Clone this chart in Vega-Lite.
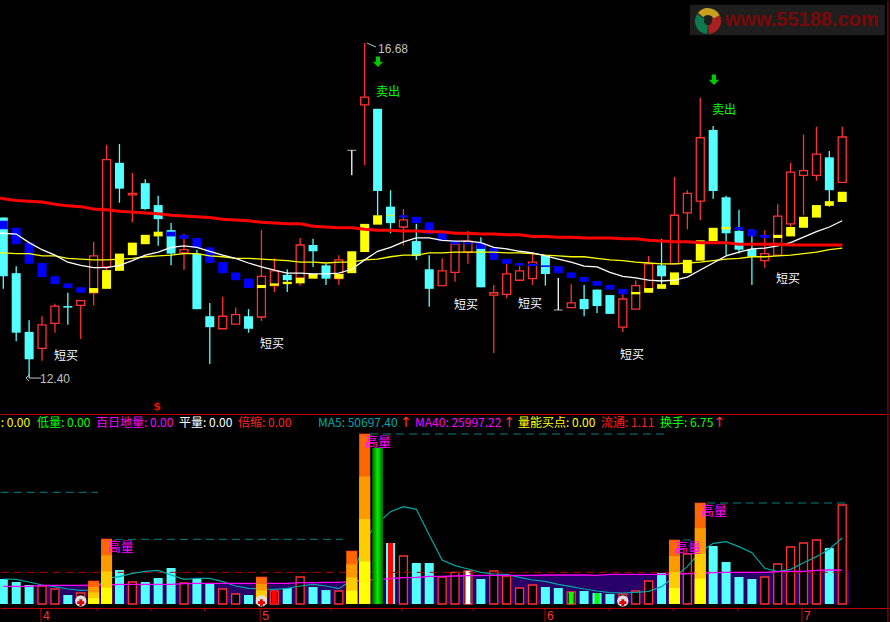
{
"$schema":"https://vega.github.io/schema/vega-lite/v6.json",
"background":"#000000","padding":0,"spacing":0,"bounds":"flush",
"config":{"view":{"stroke":null},"concat":{"spacing":0},"text":{"font":"Noto Sans CJK SC","fontSize":12}},
"datasets":{
"candles":[
{"i":0,"open":14.45,"close":13.70,"high":14.45,"low":13.54},
{"i":1,"open":13.74,"close":12.98,"high":13.83,"low":12.87},
{"i":2,"open":12.99,"close":12.64,"high":13.14,"low":12.40},
{"i":3,"open":12.78,"close":13.08,"high":13.19,"low":12.62},
{"i":4,"open":13.10,"close":13.32,"high":13.35,"low":12.98},
{"i":5,"open":13.32,"close":13.30,"high":13.49,"low":13.08},
{"i":6,"open":13.33,"close":13.39,"high":13.39,"low":12.90},
{"i":7,"open":13.49,"close":13.96,"high":14.14,"low":13.33},
{"i":8,"open":13.82,"close":15.19,"high":15.38,"low":13.78},
{"i":9,"open":15.15,"close":14.82,"high":15.39,"low":14.64},
{"i":10,"open":14.74,"close":14.76,"high":15.02,"low":14.39},
{"i":11,"open":14.89,"close":14.56,"high":14.94,"low":14.55},
{"i":12,"open":14.61,"close":14.43,"high":14.73,"low":14.09},
{"i":13,"open":14.29,"close":13.99,"high":14.38,"low":13.84},
{"i":14,"open":14.00,"close":14.04,"high":14.24,"low":13.78},
{"i":15,"open":13.99,"close":13.28,"high":14.04,"low":13.28},
{"i":16,"open":13.19,"close":13.05,"high":13.36,"low":12.58},
{"i":17,"open":13.03,"close":13.19,"high":13.44,"low":13.03},
{"i":18,"open":13.09,"close":13.21,"high":13.30,"low":13.09},
{"i":19,"open":13.19,"close":13.03,"high":13.28,"low":12.98},
{"i":20,"open":13.18,"close":13.70,"high":14.29,"low":13.13},
{"i":21,"open":13.58,"close":13.77,"high":13.93,"low":13.50},
{"i":22,"open":13.72,"close":13.65,"high":13.79,"low":13.50},
{"i":23,"open":13.68,"close":14.10,"high":14.19,"low":13.58},
{"i":24,"open":14.10,"close":14.02,"high":14.18,"low":13.82},
{"i":25,"open":13.84,"close":13.67,"high":13.86,"low":13.59},
{"i":26,"open":13.67,"close":13.91,"high":13.97,"low":13.59},
{"i":27,"open":15.31,"close":15.31,"high":15.31,"low":14.99},
{"i":28,"open":15.89,"close":15.99,"high":16.68,"low":15.12},
{"i":29,"open":15.84,"close":14.79,"high":15.84,"low":14.48},
{"i":30,"open":14.59,"close":14.38,"high":14.80,"low":14.25},
{"i":31,"open":14.33,"close":14.42,"high":14.56,"low":14.09},
{"i":32,"open":14.15,"close":13.96,"high":14.37,"low":13.91},
{"i":33,"open":13.79,"close":13.54,"high":13.97,"low":13.31},
{"i":34,"open":13.58,"close":13.77,"high":13.93,"low":13.58},
{"i":35,"open":13.75,"close":14.11,"high":14.13,"low":13.63},
{"i":36,"open":14.01,"close":14.15,"high":14.28,"low":13.86},
{"i":37,"open":14.10,"close":13.56,"high":14.20,"low":13.56},
{"i":38,"open":13.46,"close":13.49,"high":13.59,"low":12.72},
{"i":39,"open":13.47,"close":13.73,"high":13.86,"low":13.42},
{"i":40,"open":13.65,"close":13.77,"high":13.83,"low":13.64},
{"i":41,"open":13.67,"close":13.88,"high":13.99,"low":13.59},
{"i":42,"open":13.96,"close":13.73,"high":13.96,"low":13.58},
{"i":43,"open":13.27,"close":13.27,"high":13.68,"low":13.27},
{"i":44,"open":13.30,"close":13.36,"high":13.60,"low":13.30},
{"i":45,"open":13.41,"close":13.28,"high":13.59,"low":13.19},
{"i":46,"open":13.53,"close":13.32,"high":13.53,"low":13.23},
{"i":47,"open":13.46,"close":13.22,"high":13.46,"low":13.22},
{"i":48,"open":13.05,"close":13.41,"high":13.47,"low":12.99},
{"i":49,"open":13.28,"close":13.58,"high":13.65,"low":13.28},
{"i":50,"open":13.53,"close":13.86,"high":13.96,"low":13.49},
{"i":51,"open":13.84,"close":13.70,"high":14.18,"low":13.60},
{"i":52,"open":13.86,"close":14.48,"high":14.97,"low":13.86},
{"i":53,"open":14.51,"close":14.76,"high":14.80,"low":14.30},
{"i":54,"open":14.66,"close":15.47,"high":15.98,"low":14.42},
{"i":55,"open":15.57,"close":14.79,"high":15.62,"low":14.69},
{"i":56,"open":14.71,"close":14.25,"high":14.73,"low":13.97},
{"i":57,"open":14.28,"close":14.04,"high":14.55,"low":13.99},
{"i":58,"open":14.05,"close":13.95,"high":14.30,"low":13.59},
{"i":59,"open":13.90,"close":13.99,"high":14.29,"low":13.81},
{"i":60,"open":13.97,"close":14.47,"high":14.62,"low":13.97},
{"i":61,"open":14.37,"close":15.03,"high":15.15,"low":14.33},
{"i":62,"open":14.99,"close":15.05,"high":15.51,"low":14.48},
{"i":63,"open":14.99,"close":15.26,"high":15.61,"low":14.92},
{"i":64,"open":15.22,"close":14.80,"high":15.30,"low":14.59},
{"i":65,"open":14.90,"close":15.48,"high":15.61,"low":14.90}
],
"trend":[
{"i":0,"d":"down","t":14.41,"b":14.30},{"i":1,"d":"down","t":14.32,"b":14.11},{"i":2,"d":"down","t":14.13,"b":13.86},{"i":3,"d":"down","t":13.87,"b":13.69},{"i":4,"d":"down","t":13.70,"b":13.60},{"i":5,"d":"down","t":13.61,"b":13.55},{"i":6,"d":"down","t":13.56,"b":13.49},
{"i":7,"d":"up","t":13.55,"b":13.49},{"i":8,"d":"up","t":13.78,"b":13.54},{"i":9,"d":"up","t":13.99,"b":13.77},{"i":10,"d":"up","t":14.13,"b":13.97},{"i":11,"d":"up","t":14.23,"b":14.11},{"i":12,"d":"up","t":14.27,"b":14.21},
{"i":13,"d":"down","t":14.27,"b":14.21},{"i":14,"d":"down","t":14.23,"b":14.18},{"i":15,"d":"down","t":14.19,"b":14.06},{"i":16,"d":"down","t":14.07,"b":13.87},{"i":17,"d":"down","t":13.88,"b":13.74},{"i":18,"d":"down","t":13.75,"b":13.65},{"i":19,"d":"down","t":13.67,"b":13.55},
{"i":20,"d":"up","t":13.59,"b":13.55},{"i":21,"d":"up","t":13.61,"b":13.58},{"i":22,"d":"up","t":13.63,"b":13.60},{"i":23,"d":"up","t":13.68,"b":13.61},{"i":24,"d":"up","t":13.73,"b":13.67},{"i":26,"d":"up","t":13.73,"b":13.67},{"i":27,"d":"up","t":14.02,"b":13.74},{"i":28,"d":"up","t":14.37,"b":14.01},{"i":29,"d":"up","t":14.48,"b":14.36},{"i":30,"d":"up","t":14.48,"b":14.47},
{"i":31,"d":"down","t":14.48,"b":14.45},{"i":32,"d":"down","t":14.46,"b":14.38},{"i":33,"d":"down","t":14.39,"b":14.24},{"i":34,"d":"down","t":14.25,"b":14.15},{"i":35,"d":"down","t":14.15,"b":14.11},{"i":36,"d":"down","t":14.13,"b":14.11},{"i":37,"d":"down","t":14.13,"b":14.05},{"i":38,"d":"down","t":14.06,"b":13.91},{"i":39,"d":"down","t":13.92,"b":13.86},{"i":40,"d":"down","t":13.87,"b":13.84},{"i":41,"d":"down","t":13.86,"b":13.83},{"i":42,"d":"down","t":13.84,"b":13.82},{"i":43,"d":"down","t":13.83,"b":13.74},{"i":44,"d":"down","t":13.75,"b":13.68},{"i":45,"d":"down","t":13.69,"b":13.63},{"i":46,"d":"down","t":13.64,"b":13.58},{"i":47,"d":"down","t":13.59,"b":13.53},{"i":48,"d":"down","t":13.54,"b":13.47},
{"i":49,"d":"up","t":13.50,"b":13.47},{"i":50,"d":"up","t":13.55,"b":13.49},{"i":51,"d":"up","t":13.60,"b":13.54},{"i":52,"d":"up","t":13.75,"b":13.59},{"i":53,"d":"up","t":13.91,"b":13.74},{"i":54,"d":"up","t":14.16,"b":13.90},{"i":55,"d":"up","t":14.32,"b":14.15},{"i":56,"d":"up","t":14.33,"b":14.30},
{"i":57,"d":"down","t":14.33,"b":14.29},{"i":58,"d":"down","t":14.30,"b":14.21},{"i":59,"d":"down","t":14.23,"b":14.19},
{"i":60,"d":"up","t":14.23,"b":14.19},{"i":61,"d":"up","t":14.33,"b":14.21},{"i":62,"d":"up","t":14.46,"b":14.32},{"i":63,"d":"up","t":14.61,"b":14.45},{"i":64,"d":"up","t":14.66,"b":14.60},{"i":65,"d":"up","t":14.78,"b":14.65}
],
"lines":[
{"i":-0.25,"w":14.25,"y":14.00,"r":14.70},
{"i":0,"w":14.25,"y":14.00,"r":14.69},{"i":1,"w":14.24,"y":13.99,"r":14.67},{"i":2,"w":14.13,"y":13.99,"r":14.66},{"i":3,"w":14.04,"y":13.96,"r":14.65},{"i":4,"w":13.97,"y":13.96,"r":14.62},{"i":5,"w":13.88,"y":13.93,"r":14.60},{"i":6,"w":13.84,"y":13.92,"r":14.59},{"i":7,"w":13.81,"y":13.91,"r":14.56},{"i":8,"w":13.81,"y":13.91,"r":14.55},{"i":9,"w":13.84,"y":13.92,"r":14.53},
{"i":10,"w":13.90,"y":13.93,"r":14.52},{"i":11,"w":13.97,"y":13.95,"r":14.51},{"i":12,"w":14.01,"y":13.96,"r":14.50},{"i":13,"w":14.07,"y":13.97,"r":14.48},{"i":14,"w":14.09,"y":13.99,"r":14.47},{"i":15,"w":14.07,"y":13.99,"r":14.46},{"i":16,"w":14.02,"y":13.96,"r":14.45},{"i":17,"w":13.97,"y":13.95,"r":14.43},{"i":18,"w":13.93,"y":13.93,"r":14.42},{"i":19,"w":13.87,"y":13.93,"r":14.41},
{"i":20,"w":13.82,"y":13.92,"r":14.39},{"i":21,"w":13.78,"y":13.91,"r":14.38},{"i":22,"w":13.74,"y":13.90,"r":14.37},{"i":23,"w":13.74,"y":13.88,"r":14.37},{"i":24,"w":13.73,"y":13.88,"r":14.34},{"i":25,"w":13.73,"y":13.87,"r":14.33},{"i":26,"w":13.74,"y":13.88,"r":14.32},{"i":27,"w":13.79,"y":13.88,"r":14.32},{"i":28,"w":13.91,"y":13.91,"r":14.30},{"i":29,"w":14.02,"y":13.92,"r":14.29},
{"i":30,"w":14.07,"y":13.95,"r":14.29},{"i":31,"w":14.14,"y":13.97,"r":14.28},{"i":32,"w":14.19,"y":13.97,"r":14.28},{"i":33,"w":14.19,"y":14.00,"r":14.27},{"i":34,"w":14.16,"y":14.00,"r":14.27},{"i":35,"w":14.15,"y":14.01,"r":14.25},{"i":36,"w":14.15,"y":14.01,"r":14.25},{"i":37,"w":14.13,"y":14.01,"r":14.24},{"i":38,"w":14.07,"y":14.01,"r":14.24},{"i":39,"w":14.05,"y":14.00,"r":14.23},
{"i":40,"w":14.02,"y":14.00,"r":14.23},{"i":41,"w":14.00,"y":13.99,"r":14.21},{"i":42,"w":13.96,"y":13.97,"r":14.21},{"i":43,"w":13.92,"y":13.96,"r":14.20},{"i":44,"w":13.88,"y":13.95,"r":14.20},{"i":45,"w":13.83,"y":13.95,"r":14.19},{"i":46,"w":13.82,"y":13.93,"r":14.19},{"i":47,"w":13.75,"y":13.91,"r":14.19},{"i":48,"w":13.70,"y":13.90,"r":14.18},{"i":49,"w":13.68,"y":13.88,"r":14.18},
{"i":50,"w":13.65,"y":13.87,"r":14.16},{"i":51,"w":13.64,"y":13.86,"r":14.15},{"i":52,"w":13.65,"y":13.86,"r":14.14},{"i":53,"w":13.69,"y":13.87,"r":14.14},{"i":54,"w":13.78,"y":13.88,"r":14.13},{"i":55,"w":13.87,"y":13.90,"r":14.13},{"i":56,"w":13.96,"y":13.92,"r":14.13},{"i":57,"w":14.01,"y":13.93,"r":14.11},{"i":58,"w":14.05,"y":13.95,"r":14.11},{"i":59,"w":14.06,"y":13.95,"r":14.11},
{"i":60,"w":14.09,"y":13.96,"r":14.11},{"i":61,"w":14.13,"y":13.97,"r":14.10},{"i":62,"w":14.20,"y":13.99,"r":14.10},{"i":63,"w":14.27,"y":14.01,"r":14.10},{"i":64,"w":14.33,"y":14.04,"r":14.10},{"i":65,"w":14.41,"y":14.06,"r":14.10}
],
"volume":[
{"i":0,"v":19200,"d":"down","ma5":19200,"ma40":13568},{"i":1,"v":16896,"d":"down","ma5":18944,"ma40":13568},{"i":2,"v":14592,"d":"down","ma5":16896,"ma40":13568},{"i":3,"v":13824,"d":"up","ma5":14592,"ma40":14336},{"i":4,"v":11520,"d":"up","ma5":13312,"ma40":14336},{"i":5,"v":6912,"d":"down","ma5":11520,"ma40":14336},{"i":6,"v":8448,"d":"up","ma5":10496,"ma40":14336},{"i":7,"v":17664,"d":"high","ma5":10752,"ma40":14592},{"i":8,"v":49920,"d":"high","ma5":19712,"ma40":14592},{"i":9,"v":26112,"d":"down","ma5":20992,"ma40":15104},
{"i":10,"v":16896,"d":"up","ma5":23552,"ma40":15104},{"i":11,"v":16896,"d":"down","ma5":25088,"ma40":15104},{"i":12,"v":19968,"d":"down","ma5":25856,"ma40":15104},{"i":13,"v":27648,"d":"down","ma5":22272,"ma40":15104},{"i":14,"v":16128,"d":"up","ma5":18944,"ma40":15616},{"i":15,"v":19200,"d":"down","ma5":19712,"ma40":15872},{"i":16,"v":15360,"d":"down","ma5":19712,"ma40":15872},{"i":17,"v":11520,"d":"up","ma5":17152,"ma40":15872},{"i":18,"v":7680,"d":"up","ma5":13824,"ma40":15872},{"i":19,"v":6912,"d":"down","ma5":12032,"ma40":15872},
{"i":20,"v":20736,"d":"high","ma5":11520,"ma40":15872},{"i":21,"v":9984,"d":"up","ma5":11264,"ma40":15872},{"i":22,"v":12288,"d":"down","ma5":12032,"ma40":15872},{"i":23,"v":20736,"d":"up","ma5":13824,"ma40":16384},{"i":24,"v":13056,"d":"down","ma5":15104,"ma40":16384},{"i":25,"v":10752,"d":"down","ma5":13824,"ma40":16640},{"i":26,"v":9984,"d":"up","ma5":11776,"ma40":16640},{"i":27,"v":40704,"d":"high","ma5":18432,"ma40":17408},{"i":28,"v":130560,"d":"high","ma5":49152,"ma40":18432},{"i":29,"v":119808,"d":"peak","ma5":61952,"ma40":18944},
{"i":30,"v":46848,"d":"down","ma5":70912,"ma40":19456},{"i":31,"v":36864,"d":"up","ma5":74752,"ma40":20224},{"i":32,"v":31488,"d":"down","ma5":72704,"ma40":20480},{"i":33,"v":31488,"d":"down","ma5":52992,"ma40":21248},{"i":34,"v":20736,"d":"up","ma5":33792,"ma40":21248},{"i":35,"v":24320,"d":"up","ma5":29440,"ma40":21504},{"i":36,"v":25344,"d":"up","ma5":26880,"ma40":21760},{"i":37,"v":19200,"d":"down","ma5":24320,"ma40":22016},{"i":38,"v":25344,"d":"up","ma5":23040,"ma40":22016},{"i":39,"v":21504,"d":"up","ma5":22784,"ma40":22016},
{"i":40,"v":12288,"d":"up","ma5":20480,"ma40":22016},{"i":41,"v":14592,"d":"up","ma5":18432,"ma40":22016},{"i":42,"v":13056,"d":"down","ma5":17408,"ma40":22272},{"i":43,"v":12288,"d":"down","ma5":15104,"ma40":22272},{"i":44,"v":9216,"d":"up","ma5":13312,"ma40":22272},{"i":45,"v":9984,"d":"down","ma5":11520,"ma40":22272},{"i":46,"v":8448,"d":"down","ma5":9984,"ma40":22016},{"i":47,"v":7680,"d":"down","ma5":8704,"ma40":22784},{"i":48,"v":7680,"d":"up","ma5":8448,"ma40":22784},{"i":49,"v":9984,"d":"up","ma5":8960,"ma40":22784},
{"i":50,"v":17664,"d":"up","ma5":9728,"ma40":22784},{"i":51,"v":23808,"d":"down","ma5":13312,"ma40":22784},{"i":52,"v":49152,"d":"high","ma5":20992,"ma40":23040},{"i":53,"v":38400,"d":"up","ma5":28672,"ma40":23296},{"i":54,"v":77568,"d":"high","ma5":40192,"ma40":23552},{"i":55,"v":44544,"d":"down","ma5":46592,"ma40":24064},{"i":56,"v":32256,"d":"down","ma5":47872,"ma40":24320},{"i":57,"v":20736,"d":"down","ma5":44032,"ma40":24320},{"i":58,"v":19200,"d":"down","ma5":39424,"ma40":24320},{"i":59,"v":20736,"d":"up","ma5":27392,"ma40":24320},
{"i":60,"v":30720,"d":"up","ma5":24832,"ma40":24832},{"i":61,"v":43776,"d":"up","ma5":26624,"ma40":25088},{"i":62,"v":46848,"d":"up","ma5":31744,"ma40":25088},{"i":63,"v":49152,"d":"up","ma5":36352,"ma40":25856},{"i":64,"v":43008,"d":"down","ma5":42240,"ma40":26112},{"i":65,"v":76032,"d":"up","ma5":50697.40,"ma40":25997.22}
],
"highVol":[
{"i":7,"q1":4416,"q2":8832,"q3":13248,"q4":17664},
{"i":8,"q1":12480,"q2":24960,"q3":37440,"q4":49920},
{"i":20,"q1":5184,"q2":10368,"q3":15552,"q4":20736},
{"i":27,"q1":10176,"q2":20352,"q3":30528,"q4":40704},
{"i":28,"q1":32640,"q2":65280,"q3":97920,"q4":130560},
{"i":52,"q1":12288,"q2":24576,"q3":36864,"q4":49152},
{"i":54,"q1":19392,"q2":38784,"q3":58176,"q4":77568}
],
"inner":[
{"i":21,"v":9984,"c":"red"},{"i":30,"v":46848,"c":"red"},{"i":36,"v":25344,"c":"white"},{"i":44,"v":9216,"c":"green"},{"i":46,"v":8448,"c":"green"}
],
"levels":[
{"a":-0.2,"b":7.33,"v":85760},{"a":8.65,"b":26.32,"v":49664},{"a":28.41,"b":51.34,"v":130560},{"a":52.66,"b":53.42,"v":49152},{"a":54.52,"b":65.37,"v":77568}
],
"ticks":[
{"i":2.92,"label":"4","major":true},{"i":7.26,"major":false},{"i":11.44,"major":false},{"i":15.6,"major":false},{"i":19.9,"label":"5","major":true},{"i":25.39,"major":false},{"i":30.89,"major":false},{"i":36.39,"major":false},{"i":41.97,"label":"6","major":true},{"i":46.93,"major":false},{"i":51.89,"major":false},{"i":56.92,"major":false},{"i":61.88,"label":"7","major":true}
]
},
"vconcat":[
{"width":890,"height":414,
"encoding":{"x":{"field":"i","type":"quantitative","axis":null,"scale":{"domain":[-0.2557,68.7],"nice":false,"zero":false,"padding":0}}},
"layer":[
{"data":{"values":[{"a":53.2,"b":68.3,"t":17.17,"u":16.78}]},"mark":{"type":"rect","color":"#1e1e1e"},"encoding":{"x":{"field":"a","type":"quantitative"},"x2":{"field":"b"},"y":{"field":"t","type":"quantitative","axis":null,"scale":{"domain":[11.941,17.23],"nice":false,"zero":false,"padding":0}},"y2":{"field":"u"}}},
{"data":{"values":[{"i":54.6,"p":16.96}]},"mark":{"type":"arc","color":"#c8a020","innerRadius":6,"outerRadius":13,"theta":5.4,"theta2":7.6},"encoding":{"x":{"field":"i","type":"quantitative"},"y":{"field":"p","type":"quantitative"}}},
{"data":{"values":[{"i":54.6,"p":16.96}]},"mark":{"type":"arc","color":"#0c7a4c","innerRadius":4,"outerRadius":13,"theta":3.2,"theta2":5.3},"encoding":{"x":{"field":"i","type":"quantitative"},"y":{"field":"p","type":"quantitative"}}},
{"data":{"values":[{"i":54.6,"p":16.96}]},"mark":{"type":"arc","color":"#a82020","innerRadius":4,"outerRadius":13,"theta":1.1,"theta2":3.1},"encoding":{"x":{"field":"i","type":"quantitative"},"y":{"field":"p","type":"quantitative"}}},
{"data":{"values":[{"i":55.9,"p":16.97,"t":"www.55188.com"}]},"mark":{"type":"text","align":"left","baseline":"middle","font":"Liberation Sans","fontWeight":"bold","fontSize":20,"color":"#7a0808"},"encoding":{"y":{"field":"p","type":"quantitative"},"text":{"field":"t"}}},
{"data":{"name":"candles"},"transform":[{"filter":"datum.close>datum.open"}],"mark":{"type":"rule","color":"#ff3232","strokeWidth":1.3},"encoding":{"y":{"field":"high","type":"quantitative"},"y2":{"field":"low"}}},
{"data":{"name":"candles"},"transform":[{"filter":"datum.close<datum.open"}],"mark":{"type":"rule","color":"#54ffff","strokeWidth":1.3},"encoding":{"y":{"field":"high","type":"quantitative"},"y2":{"field":"low"}}},
{"data":{"name":"candles"},"transform":[{"filter":"datum.close==datum.open"}],"mark":{"type":"rule","color":"#ffffff","strokeWidth":1.3},"encoding":{"y":{"field":"high","type":"quantitative"},"y2":{"field":"low"}}},
{"data":{"name":"candles"},"transform":[{"filter":"datum.close==datum.open"}],"mark":{"type":"tick","color":"#ffffff","size":9,"thickness":1,"orient":"horizontal"},"encoding":{"y":{"field":"close","type":"quantitative"}}},
{"data":{"name":"candles"},"transform":[{"filter":"datum.close>datum.open"}],"mark":{"type":"bar","size":8,"fill":"#000000","stroke":"#ff3232","strokeWidth":1.3,"clip":true},"encoding":{"y":{"field":"close","type":"quantitative"},"y2":{"field":"open"}}},
{"data":{"name":"candles"},"transform":[{"filter":"datum.close<datum.open"}],"mark":{"type":"bar","size":9,"color":"#54ffff","clip":true},"encoding":{"y":{"field":"open","type":"quantitative"},"y2":{"field":"close"}}},
{"data":{"name":"trend"},"transform":[{"filter":"datum.d=='down'"}],"mark":{"type":"bar","size":9,"color":"#0000ff","clip":true},"encoding":{"y":{"field":"t","type":"quantitative"},"y2":{"field":"b"}}},
{"data":{"name":"trend"},"transform":[{"filter":"datum.d=='up'"}],"mark":{"type":"bar","size":9,"color":"#ffff00","clip":true},"encoding":{"y":{"field":"t","type":"quantitative"},"y2":{"field":"b"}}},
{"data":{"name":"lines"},"mark":{"type":"line","color":"#ffff00","strokeWidth":1.3,"clip":true},"encoding":{"y":{"field":"y","type":"quantitative"}}},
{"data":{"name":"lines"},"mark":{"type":"line","color":"#ffffff","strokeWidth":1.3,"clip":true},"encoding":{"y":{"field":"w","type":"quantitative"}}},
{"data":{"name":"lines"},"mark":{"type":"line","color":"#ff0000","strokeWidth":3,"clip":true},"encoding":{"y":{"field":"r","type":"quantitative"}}},
{"data":{"values":[{"i":4.86,"p":12.68,"t":"短买"},{"i":20.82,"p":12.84,"t":"短买"},{"i":35.85,"p":13.33,"t":"短买"},{"i":40.81,"p":13.35,"t":"短买"},{"i":48.71,"p":12.70,"t":"短买"},{"i":60.8,"p":13.67,"t":"短买"}]},"mark":{"type":"text","color":"#ffffff","baseline":"middle"},"encoding":{"y":{"field":"p","type":"quantitative"},"text":{"field":"t"}}},
{"data":{"values":[{"i":29.8,"p":16.05,"t":"卖出"},{"i":55.84,"p":15.82,"t":"卖出"}]},"mark":{"type":"text","color":"#00ff00","baseline":"middle"},"encoding":{"y":{"field":"p","type":"quantitative"},"text":{"field":"t"}}},
{"data":{"values":[{"i":29.03,"p":16.44},{"i":55.06,"p":16.21}]},"mark":{"type":"point","filled":true,"color":"#00c800","opacity":1,"size":110,"shape":"M-0.4,-1L0.4,-1L0.4,0L1,0L0,1L-1,0L-0.4,0Z"},"encoding":{"y":{"field":"p","type":"quantitative"}}},
{"data":{"values":[{"i":29.03,"p":16.60,"t":"16.68"},{"i":2.84,"p":12.39,"t":"12.40"}]},"mark":{"type":"text","color":"#c0c0c0","align":"left","baseline":"middle","font":"Liberation Sans","fontSize":12},"encoding":{"y":{"field":"p","type":"quantitative"},"text":{"field":"t"}}},
{"data":{"values":[{"a":28.18,"b":28.87,"p":16.68,"q":16.63},{"a":2.0,"b":2.92,"p":12.40,"q":12.40}]},"mark":{"type":"rule","color":"#c0c0c0","strokeWidth":1},"encoding":{"x":{"field":"a","type":"quantitative"},"x2":{"field":"b"},"y":{"field":"p","type":"quantitative"},"y2":{"field":"q"}}},
{"data":{"values":[{"i":2.0,"p":12.40}]},"mark":{"type":"point","shape":"M0,-1L-1,0L0,1","size":40,"filled":false,"color":"#c0c0c0","opacity":1,"strokeWidth":1},"encoding":{"y":{"field":"p","type":"quantitative"}}},
{"data":{"values":[{"i":11.91,"p":12.03,"t":"$"}]},"mark":{"type":"text","color":"#ff0000","baseline":"middle","font":"DejaVu Sans","fontWeight":"bold","fontSize":11},"encoding":{"y":{"field":"p","type":"quantitative"},"text":{"field":"t"}}},
{"data":{"values":[{"i":68.54,"p":17.22,"q":11.95}]},"mark":{"type":"rule","color":"#c00000","strokeWidth":1},"encoding":{"y":{"field":"p","type":"quantitative"},"y2":{"field":"q"}}}
]},
{"width":890,"height":208,
"encoding":{"x":{"field":"i","type":"quantitative","axis":null,"scale":{"domain":[-0.2557,68.7],"nice":false,"zero":false,"padding":0}}},
"layer":[
{"data":{"name":"volume"},"transform":[{"filter":"datum.i>=3"}],"mark":{"type":"bar","size":14,"color":"#280068"},"encoding":{"y":{"field":"ma40","type":"quantitative","axis":null,"scale":{"domain":[-13824,145920],"nice":false,"zero":false,"padding":0}},"y2":{"datum":0}}},
{"data":{"name":"volume"},"transform":[{"filter":"datum.d=='down'"}],"mark":{"type":"bar","size":9,"color":"#54ffff","clip":true},"encoding":{"y":{"field":"v","type":"quantitative"},"y2":{"datum":0}}},
{"data":{"name":"volume"},"transform":[{"filter":"datum.d=='up'"}],"mark":{"type":"bar","size":8,"fill":"#000000","stroke":"#ff3232","strokeWidth":1.3},"encoding":{"y":{"field":"v","type":"quantitative"},"y2":{"datum":0}}},
{"data":{"name":"inner"},"transform":[{"filter":"datum.c=='red'"}],"mark":{"type":"bar","size":5,"color":"#ff0000"},"encoding":{"y":{"field":"v","type":"quantitative"},"y2":{"datum":0}}},
{"data":{"name":"inner"},"transform":[{"filter":"datum.c=='white'"}],"mark":{"type":"bar","size":5,"color":"#ffffff"},"encoding":{"y":{"field":"v","type":"quantitative"},"y2":{"datum":0}}},
{"data":{"name":"inner"},"transform":[{"filter":"datum.c=='green'"}],"mark":{"type":"bar","size":5,"color":"#00ff00"},"encoding":{"y":{"field":"v","type":"quantitative"},"y2":{"datum":0}}},
{"data":{"name":"levels"},"mark":{"type":"rule","color":"#008080","strokeWidth":1,"strokeDash":[8,5]},"encoding":{"x":{"field":"a","type":"quantitative"},"x2":{"field":"b"},"y":{"field":"v","type":"quantitative"}}},
{"data":{"values":[{"a":-0.2,"b":65.4,"v":24320}]},"mark":{"type":"rule","color":"#b00000","strokeWidth":1,"strokeDash":[8,5]},"encoding":{"x":{"field":"a","type":"quantitative"},"x2":{"field":"b"},"y":{"field":"v","type":"quantitative"}}},
{"data":{"name":"volume"},"mark":{"type":"line","color":"#00a8a8","strokeWidth":1.2,"clip":true},"encoding":{"y":{"field":"ma5","type":"quantitative"}}},
{"data":{"name":"volume"},"mark":{"type":"line","color":"#ff00ff","strokeWidth":1.3,"clip":true},"encoding":{"y":{"field":"ma40","type":"quantitative"}}},
{"data":{"name":"highVol"},"mark":{"type":"bar","size":11,"color":"#ff6600"},"encoding":{"y":{"field":"q4","type":"quantitative"},"y2":{"datum":0}}},
{"data":{"name":"highVol"},"mark":{"type":"bar","size":11,"color":"#ff9900"},"encoding":{"y":{"field":"q3","type":"quantitative"},"y2":{"datum":0}}},
{"data":{"name":"highVol"},"mark":{"type":"bar","size":11,"color":"#ffcc00"},"encoding":{"y":{"field":"q2","type":"quantitative"},"y2":{"datum":0}}},
{"data":{"name":"highVol"},"mark":{"type":"bar","size":11,"color":"#ffff00"},"encoding":{"y":{"field":"q1","type":"quantitative"},"y2":{"datum":0}}},
{"data":{"name":"highVol"},"mark":{"type":"tick","size":11,"thickness":1,"orient":"horizontal","color":"#ff3232"},"encoding":{"y":{"field":"q4","type":"quantitative"}}},
{"data":{"name":"volume"},"transform":[{"filter":"datum.d=='peak'"}],"mark":{"type":"bar","size":11,"color":{"gradient":"linear","x1":0,"x2":1,"y1":0,"y2":0,"stops":[{"offset":0,"color":"#006000"},{"offset":0.5,"color":"#00f000"},{"offset":1,"color":"#006000"}]}},"encoding":{"y":{"field":"v","type":"quantitative"},"y2":{"datum":0}}},
{"data":{"values":[{"i":6},{"i":20},{"i":48}]},"mark":{"type":"point","filled":true,"color":"#dddddd","opacity":1,"size":130,"shape":"circle"},"encoding":{"y":{"datum":2304}}},
{"data":{"values":[{"i":6},{"i":20},{"i":48}]},"mark":{"type":"point","filled":true,"color":"#e00000","opacity":1,"size":50,"shape":"cross"},"encoding":{"y":{"datum":1000}}},
{"data":{"values":[{"i":-0.2,"x2":68.6}]},"mark":{"type":"rule","color":"#c00000","strokeWidth":1},"encoding":{"x":{"field":"i","type":"quantitative"},"x2":{"field":"x2"},"y":{"datum":-3456}}},
{"data":{"values":[{"i":-0.2,"x2":68.6}]},"mark":{"type":"rule","color":"#c00000","strokeWidth":1},"encoding":{"x":{"field":"i","type":"quantitative"},"x2":{"field":"x2"},"y":{"datum":145536}}},
{"data":{"values":[{"i":68.54}]},"mark":{"type":"rule","color":"#c00000","strokeWidth":1},"encoding":{"y":{"datum":145800},"y2":{"datum":-13700}}},
{"data":{"name":"ticks"},"transform":[{"filter":"datum.major"}],"mark":{"type":"rule","color":"#c00000","strokeWidth":1},"encoding":{"y":{"datum":-3456},"y2":{"datum":-13700}}},
{"data":{"name":"ticks"},"transform":[{"filter":"!datum.major"}],"mark":{"type":"rule","color":"#c00000","strokeWidth":1},"encoding":{"y":{"datum":-3456},"y2":{"datum":-5376}}},
{"data":{"name":"ticks"},"transform":[{"filter":"datum.major"}],"mark":{"type":"text","color":"#ff3232","align":"left","baseline":"middle","dx":2,"font":"Liberation Sans","fontSize":12},"encoding":{"y":{"datum":-9000},"text":{"field":"label"}}},
{"data":{"values":[{"i":9.1,"v":43776},{"i":29.03,"v":124416},{"i":53.05,"v":43008},{"i":55.06,"v":71424}]},"mark":{"type":"text","color":"#ff00ff","baseline":"middle","fontSize":13},"encoding":{"y":{"field":"v","type":"quantitative"},"text":{"datum":"高量"}}},
{"data":{"values":[{"i":-0.2,"t":": 0.00"},{"i":39.88,"t":"量能买点: 0.00"}]},"mark":{"type":"text","color":"#ffff00","align":"left","baseline":"middle"},"encoding":{"y":{"datum":139008},"text":{"field":"t"}}},
{"data":{"values":[{"i":2.61,"t":"低量: 0.00"},{"i":50.88,"t":"换手: 6.75"}]},"mark":{"type":"text","color":"#00ff00","align":"left","baseline":"middle"},"encoding":{"y":{"datum":139008},"text":{"field":"t"}}},
{"data":{"values":[{"i":7.18,"t":"百日地量: 0.00"},{"i":31.9,"t":"MA40: 25997.22"}]},"mark":{"type":"text","color":"#ff00ff","align":"left","baseline":"middle"},"encoding":{"y":{"datum":139008},"text":{"field":"t"}}},
{"data":{"values":[{"i":13.61,"t":"平量: 0.00"}]},"mark":{"type":"text","color":"#ffffff","align":"left","baseline":"middle"},"encoding":{"y":{"datum":139008},"text":{"field":"t"}}},
{"data":{"values":[{"i":18.18,"t":"倍缩: 0.00"},{"i":46.31,"t":"流通: 1.11"}]},"mark":{"type":"text","color":"#ff2020","align":"left","baseline":"middle"},"encoding":{"y":{"datum":139008},"text":{"field":"t"}}},
{"data":{"values":[{"i":24.38,"t":"MA5: 50697.40"}]},"mark":{"type":"text","color":"#00a8a8","align":"left","baseline":"middle"},"encoding":{"y":{"datum":139008},"text":{"field":"t"}}},
{"data":{"values":[{"i":31.2},{"i":39.2},{"i":55.5}]},"mark":{"type":"text","color":"#ff3232","baseline":"middle","font":"DejaVu Sans","fontSize":14},"encoding":{"y":{"datum":139008},"text":{"datum":"↑"}}}
]}
]
}
